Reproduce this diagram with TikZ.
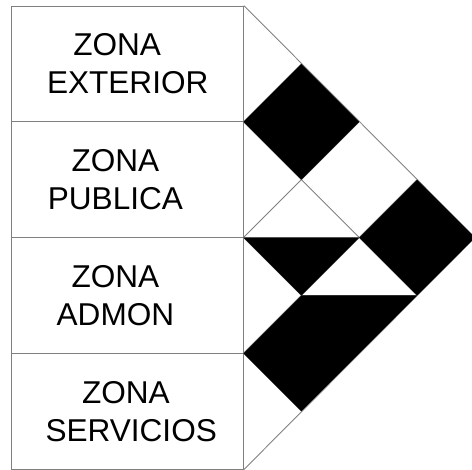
\documentclass[tikz,border=0pt]{standalone}
\usepackage{fontspec}
\setmainfont{Liberation Sans}
\begin{document}
\begin{tikzpicture}[
      x=2.32cm, y=2.32cm,
      zone/.style={draw=gray, line width=0.5pt, inner sep=0pt,
        minimum width=4.64cm, minimum height=2.32cm, align=center,
        font=\fontsize{18}{21.6}\selectfont},
      label/.style={align=center, font=\fontsize{18}{21.6}\selectfont},
      grid/.style={gray, line width=0.5pt},
      strong/.style={fill=black}
    ]
    \useasboundingbox (-2.103,0) rectangle (1.974,4.052);
    % zonas
    \node[zone] (ext) at (-1,3.5) {};
    \node[zone] (pub) at (-1,2.5) {};
    \node[zone] (adm) at (-1,1.5) {};
    \node[zone] (ser) at (-1,0.5) {};
    \node[label] at (ext) {ZONA\hspace*{12pt}\\EXTERIOR};
    \node[label, xshift=-7pt] at (pub) {ZONA\\PUBLICA};
    \node[label, xshift=-7pt] at (adm) {ZONA\\ADMON};
    \node[label, xshift=2pt] at (ser) {ZONA\hspace*{6pt}\\SERVICIOS};
    \coordinate (apex) at (2,2);
    % matriz
    \draw[grid] (ext.north east) -- (apex) -- (ser.south east);
    \foreach \k in {1,2,3} {
      \draw[grid] (0,\k) -- ({\k/2},{\k/2});
      \draw[grid] (0,\k) -- ({(4-\k)/2},{(4+\k)/2});
    }
    \draw[grid] (0,2) -- (1,2);
    \draw[grid] (0.5,1.5) -- (1.5,1.5);
    % relaciones
    \fill[strong] (0,3) -- (0.5,3.5) -- (1,3) -- (0.5,2.5) -- cycle;
    \fill[strong] (0,2) -- (1,2) -- (0.5,1.5) -- cycle;
    \fill[strong] (0,1) -- (0.5,1.5) -- (1.5,1.5) -- (0.5,0.5) -- cycle;
    \fill[strong] (1,2) -- (1.5,2.5) -- (apex) -- (1.5,1.5) -- cycle;
  \end{tikzpicture}
\end{document}
